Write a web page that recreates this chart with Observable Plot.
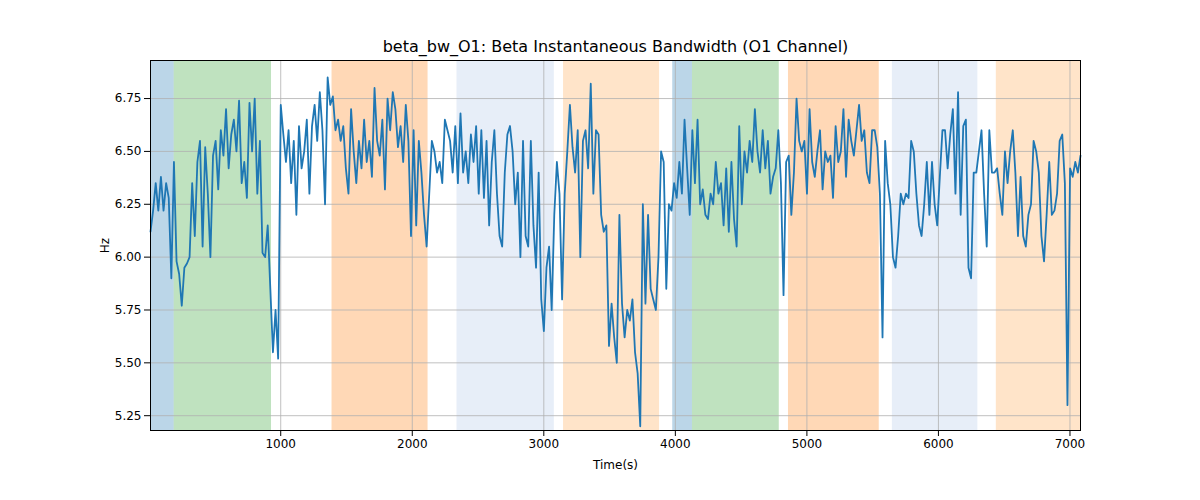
<!DOCTYPE html>
<html><head><meta charset="utf-8">
<script src="https://cdn.jsdelivr.net/npm/d3@7"></script>
<script src="https://cdn.jsdelivr.net/npm/@observablehq/plot@0.6"></script>
<style>body{margin:0;background:#fff;font-family:"DejaVu Sans",sans-serif}</style>
</head><body><div id="c"></div>
<script>
const values = [
6.12,6.22,6.35,6.22,6.38,6.22,6.35,6.28,5.9,6.45,
5.98,5.92,5.77,5.95,5.97,6.0,6.35,6.1,6.45,6.55,
6.05,6.52,6.3,6.0,6.48,6.55,6.32,6.6,6.48,6.7,
6.42,6.58,6.65,6.5,6.74,6.35,6.45,6.28,6.73,6.5,
6.75,6.3,6.55,6.02,6.0,6.15,5.85,5.55,5.75,5.52,
6.72,6.58,6.45,6.6,6.35,6.55,6.2,6.62,6.42,6.5,
6.65,6.3,6.62,6.72,6.55,6.78,6.6,6.25,6.85,6.72,
6.76,6.6,6.65,6.55,6.62,6.42,6.3,6.7,6.5,6.35,
6.55,6.42,6.65,6.45,6.55,6.38,6.8,6.55,6.48,6.65,
6.32,6.75,6.6,6.78,6.7,6.52,6.62,6.45,6.72,6.55,
6.1,6.6,6.15,6.55,6.4,6.2,6.05,6.3,6.55,6.5,
6.4,6.45,6.35,6.65,6.6,6.55,6.4,6.62,6.35,6.68,
6.4,6.5,6.35,6.58,6.45,6.62,6.3,6.6,6.28,6.55,
6.15,6.45,6.6,6.3,6.1,6.05,6.4,6.58,6.62,6.5,
6.25,6.4,6.0,6.55,6.1,6.05,6.55,6.15,5.95,6.4,
5.8,5.65,5.95,6.05,5.75,6.2,6.45,6.3,5.8,6.3,
6.5,6.72,6.52,6.4,6.6,6.0,6.55,6.6,6.42,6.82,
6.3,6.6,6.58,6.2,6.12,6.15,5.58,5.78,5.62,5.5,
6.2,5.78,5.62,5.75,5.7,5.8,5.55,5.45,5.2,
6.25,5.78,6.2,5.85,5.8,5.75,6.0,6.5,6.45,5.85,
6.25,6.22,6.35,6.28,6.45,6.3,6.65,6.42,6.2,6.6,
6.35,6.65,6.25,6.32,6.2,6.18,6.3,6.25,6.45,6.3,
6.35,6.15,6.42,6.12,6.45,6.18,6.05,6.62,6.25,6.5,
6.4,6.55,6.45,6.7,6.5,6.4,6.6,6.42,6.55,6.3,
6.38,6.42,6.6,6.35,5.82,6.45,6.48,6.2,6.4,6.75,
6.55,6.5,6.55,6.3,6.7,6.45,6.38,6.5,6.6,6.32,
6.5,6.45,6.48,6.28,6.62,6.45,6.5,6.7,6.38,6.65,
6.55,6.48,6.6,6.72,6.55,6.6,6.4,6.35,6.6,6.6,
6.52,6.3,5.62,6.55,6.35,6.25,6.0,5.95,6.1,6.3,
6.25,6.3,6.28,6.55,6.5,6.3,6.15,6.1,6.25,6.45,
6.2,6.45,6.25,6.15,6.38,6.6,6.6,6.42,6.58,6.7,
6.3,6.78,6.2,6.62,6.65,5.95,5.9,6.4,6.4,6.5,
6.6,6.3,6.05,6.6,6.4,6.4,6.42,6.3,6.2,6.5,
6.35,6.5,6.6,6.4,6.1,6.38,6.1,6.05,6.2,6.25,
6.55,6.5,6.4,6.1,5.98,6.2,6.45,6.2,6.22,6.3,
6.55,6.58,6.35,5.3,6.42,6.38,6.45,6.4,6.48
];
const tStart = 10, tEnd = 7080;
const data = values.map((v,i)=>({t: tStart + i*(tEnd-tStart)/(values.length-1), v}));
const spanStarts = [10,190,1390,2340,3150,3980,4130,4860,5650,6440];
const spanEnds   = [190,930,2120,3080,3880,4130,4790,5550,6300,7080];
const spanColors = ["#1f77b4","#2ca02c","#ff7f0e","#aec7e8","#ffbb78","#1f77b4","#2ca02c","#ff7f0e","#aec7e8","#ffbb78"];
const spanOpacity = [0.3,0.3,0.3,0.3,0.4,0.3,0.3,0.3,0.3,0.4];
const spans = spanStarts.map((s,i)=>({x1:s,x2:spanEnds[i],c:spanColors[i],o:spanOpacity[i]}));
const xTicks = [1000,2000,3000,4000,5000,6000,7000];
const yTicks = [5.25,5.5,5.75,6.0,6.25,6.5,6.75];
const chart = Plot.plot({
  width:1200,height:500,marginLeft:150,marginRight:120,marginTop:60,marginBottom:70,
  style:{fontFamily:"DejaVu Sans",fontSize:"12px",color:"#000"},
  x:{domain:[10,7080]},
  y:{domain:[5.18,6.93]},
  marks:[
    Plot.rectY(spans,{x1:"x1",x2:"x2",y1:5.18,y2:6.93,fill:"c",fillOpacity:"o"}),
    Plot.gridX(xTicks,{stroke:"#b0b0b0",strokeOpacity:1,strokeWidth:0.8}),
    Plot.gridY(yTicks,{stroke:"#b0b0b0",strokeOpacity:1,strokeWidth:0.8}),
    Plot.line(data,{x:"t",y:"v",stroke:"#1f77b4",strokeWidth:1.8}),
    Plot.frame({stroke:"#000"}),
    Plot.axisX({ticks:xTicks,tickFormat:d=>String(d),label:"Time(s)",labelAnchor:"center",labelArrow:"none",fontSize:12,labelOffset:38}),
    Plot.axisY({ticks:yTicks,tickFormat:d=>d.toFixed(2),label:"Hz",labelAnchor:"center",labelArrow:"none",fontSize:12,labelOffset:50}),
    Plot.text(["beta_bw_O1: Beta Instantaneous Bandwidth (O1 Channel)"],{frameAnchor:"top",dy:-20,fontSize:16,fill:"#000"})
  ]
});
document.getElementById("c").appendChild(chart);
</script></body></html>
